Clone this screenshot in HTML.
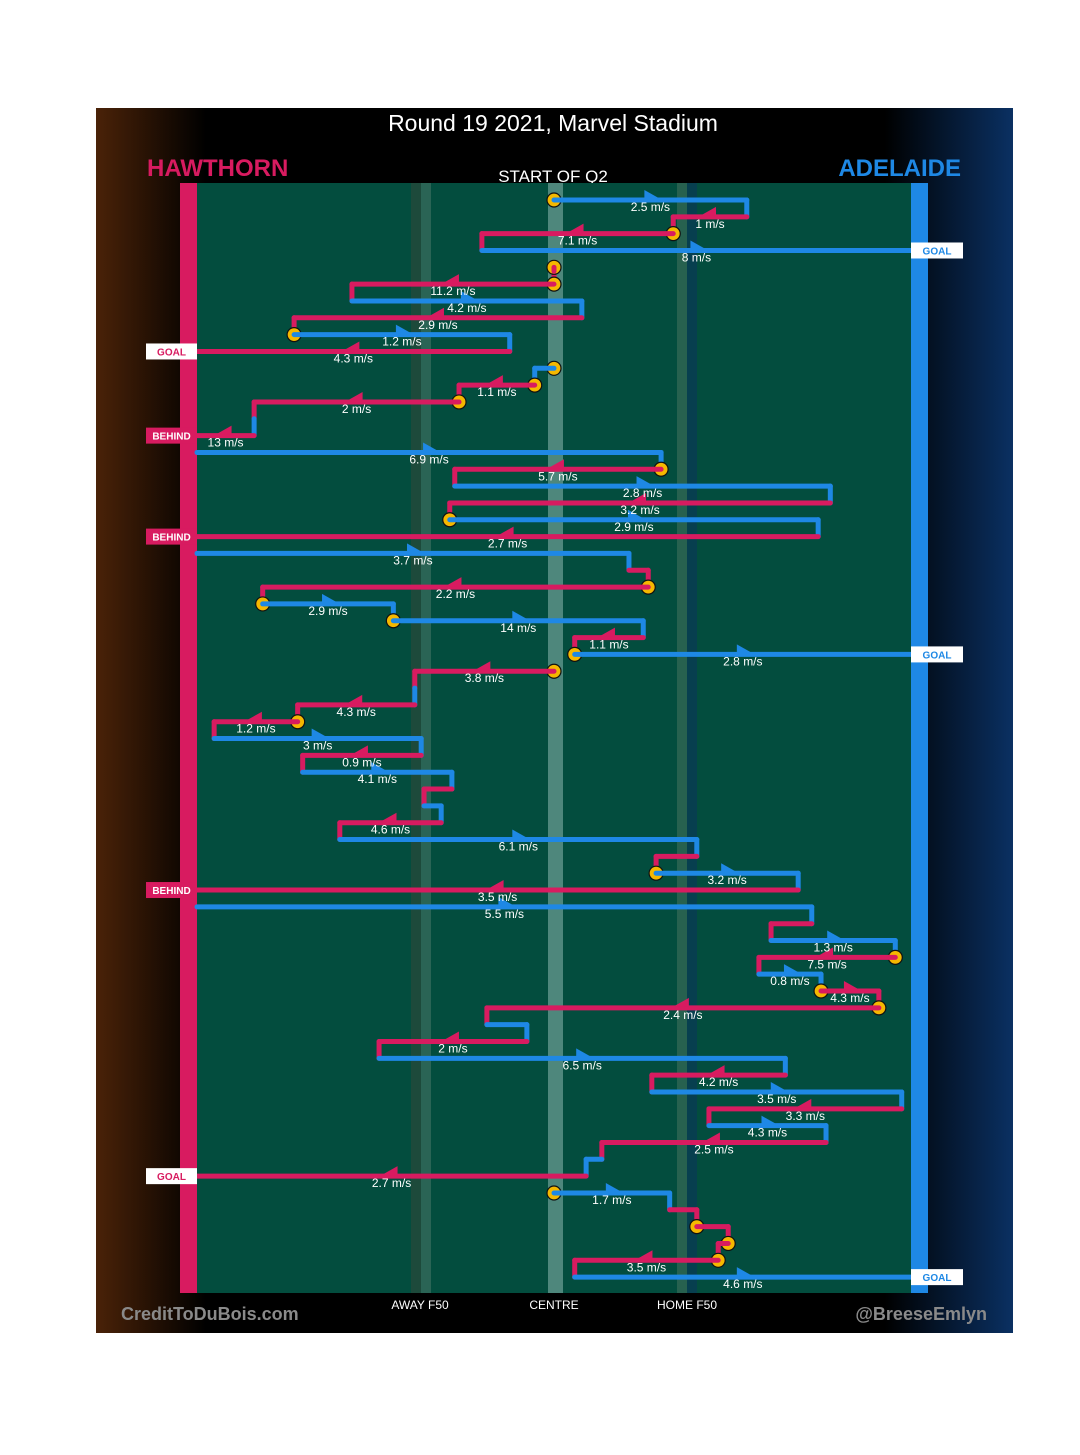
<!DOCTYPE html>
<html><head><meta charset="utf-8">
<style>
html,body{margin:0;padding:0;background:#fff;}
svg{display:block;}
text{font-family:"Liberation Sans Narrow","Liberation Sans",sans-serif;}
</style></head>
<body>
<svg id="chart" width="1080" height="1455" viewBox="0 0 1080 1455" xmlns="http://www.w3.org/2000/svg">
<defs>
<linearGradient id="bgGrad" x1="0" x2="1" y1="0" y2="0">
<stop offset="0" stop-color="#4a2208"/>
<stop offset="0.12" stop-color="#000"/>
<stop offset="0.86" stop-color="#000"/>
<stop offset="1" stop-color="#0a3062"/>
</linearGradient>
</defs>
<rect x="96" y="108" width="917" height="1225" fill="url(#bgGrad)"/>
<text x="553" y="131" text-anchor="middle" fill="#fff" font-size="23">Round 19 2021, Marvel Stadium</text>
<text x="147" y="176" fill="#d81b60" font-size="24" font-weight="bold">HAWTHORN</text>
<text x="961" y="176" text-anchor="end" fill="#1e88e5" font-size="24" font-weight="bold">ADELAIDE</text>
<text x="553" y="182" text-anchor="middle" fill="#fff" font-size="17">START OF Q2</text>
<rect x="197" y="183" width="714" height="1110" fill="#034d3e"/>
<rect x="411" y="183" width="10" height="1110" fill="#1d4a3b"/>
<rect x="421" y="183" width="10" height="1110" fill="#2a6455"/>
<rect x="548" y="183" width="15" height="1110" fill="#4e877c"/>
<rect x="677" y="183" width="10" height="1110" fill="#27614f"/>
<rect x="687" y="183" width="10" height="1110" fill="#073f4f"/>
<rect x="180" y="183" width="17" height="1110" fill="#d81b60"/>
<rect x="911" y="183" width="17" height="1110" fill="#1e88e5"/>
<g id="marks"></g>
<text x="420" y="1309" text-anchor="middle" fill="#fff" font-size="12">AWAY F50</text>
<text x="554" y="1309" text-anchor="middle" fill="#fff" font-size="12">CENTRE</text>
<text x="687" y="1309" text-anchor="middle" fill="#fff" font-size="12">HOME F50</text>
<text x="121" y="1320" fill="#8a8a8a" font-size="18" font-weight="bold">CreditToDuBois.com</text>
<text x="987" y="1320" text-anchor="end" fill="#8a8a8a" font-size="18" font-weight="bold">@BreeseEmlyn</text>
</svg>
<script>
// row index, team (H = Hawthorn, A = Adelaide), start/end position (0 = Hawthorn goal, 100 = Adelaide goal), speed label, marker, outcome
const rows   = [0,1,2,3,4,5,6,7,8,9,10,11,12,13,14,15,16,17,18,19,20,21,22,23,24,25,26,27,28,29,30,31,32,33,34,35,36,37,38,39,40,41,42,43,44,45,46,47,48,49,50,51,52,53,54,55,56,57,58,59,60,61,62,63,64];
const teams  = ["A","H","H","A","H","H","A","H","A","H","A","H","H","A","H","A","H","A","H","A","H","A","H","H","A","A","H","A","H","A","H","H","A","H","A","H","A","H","A","H","A","H","A","H","A","H","A","H","H","A","H","A","H","A","H","A","H","A","H","A","H","H","H","H","A"];
const starts = [50,77,66.7,39.9,50,50,21.7,53.9,13.6,43.8,50,47.3,36.7,8,8,0,65,36.1,88.7,35.4,87,0,60.5,63.2,9.2,27.5,62.5,52.9,50,30.5,30.5,14.1,2.4,31.4,14.8,35.7,31.8,34.2,20,70,64.3,84.2,0,86.1,80.4,97.8,78.7,87.4,95.5,40.6,46.2,25.5,82.4,63.7,98.7,71.7,88.1,56.7,54.5,50,66.2,70,74.4,73,52.9];
const ends   = [77,66.7,39.9,100,50,21.7,53.9,13.6,43.8,0,47.3,36.7,8,8,0,65,36.1,88.7,35.4,87,0,60.5,63.2,9.2,27.5,62.5,52.9,100,30.5,30.5,14.1,2.4,31.4,14.8,35.7,31.8,34.2,20,70,64.3,84.2,0,86.1,80.4,97.8,78.7,87.4,95.5,40.6,46.2,25.5,82.4,63.7,98.7,71.7,88.1,56.7,54.5,0,66.2,70,74.4,73,52.9,100];
const speeds = ["2.5","1","7.1","8","","11.2","4.2","2.9","1.2","4.3","","1.1","2","","13","6.9","5.7","2.8","3.2","2.9","2.7","3.7","","2.2","2.9","14","1.1","2.8","3.8","","4.3","1.2","3","0.9","4.1","","","4.6","6.1","","3.2","3.5","5.5","","1.3","7.5","0.8","4.3","2.4","","2","6.5","4.2","3.5","3.3","4.3","2.5","","2.7","1.7","","","","3.5","4.6"];
const markers= [1,0,1,0,1,1,0,0,1,0,1,1,1,0,0,0,1,0,0,1,0,0,0,1,1,1,0,1,1,0,0,1,0,0,0,0,0,0,0,0,1,0,0,0,0,1,0,1,1,0,0,0,0,0,0,0,0,0,0,1,0,1,1,1,0];
const outcomes=["","","","GOAL","","","","","","GOAL","","","","","BEHIND","","","","","","BEHIND","","","","","","","GOAL","","","","","","","","","","","","","","BEHIND","","","","","","","","","","","","","","","","","GOAL","","","","","","GOAL"];

const X0 = 197, X1 = 911, Y0 = 200, ROWH = 16.83;
const xScale = p => X0 + (X1 - X0) * p / 100;
const yScale = r => Y0 + r * ROWH;
const colors = {H:"#d81b60", A:"#1e88e5"};
const NS = "http://www.w3.org/2000/svg";
const g = document.getElementById("marks");
const layerV = document.createElementNS(NS,"g"), layerM = document.createElementNS(NS,"g"), layerH = document.createElementNS(NS,"g"), layerT = document.createElementNS(NS,"g");
g.appendChild(layerV); g.appendChild(layerM); g.appendChild(layerH); g.appendChild(layerT);
function mk(tag, attrs, parent){const e=document.createElementNS(NS,tag);for(const k in attrs)e.setAttribute(k,attrs[k]);parent.appendChild(e);return e;}

for (let i = 0; i < rows.length; i++) {
  const y = yScale(rows[i]);
  const xa = xScale(starts[i]), xb = xScale(ends[i]);
  const col = colors[teams[i]];
  // vertical connector from previous row
  if (i > 0 && Math.abs(ends[i-1] - starts[i]) < 0.01 && outcomes[i-1] === "") {
    const v = mk("line",{x1:xa,y1:yScale(rows[i-1]),x2:xa,y2:y,stroke:colors[teams[i-1]],"stroke-width":5,"stroke-linecap":"round"},layerV);
    
    
  }
  if (markers[i]) {
    const m = mk("circle",{cx:xa,cy:y,r:7,fill:"#f5b800",stroke:"#111","stroke-width":1.2},layerM);
    
    
  }
  if (Math.abs(xb - xa) > 0.5) {
    const h = mk("line",{x1:xa,y1:y,x2:xb,y2:y,stroke:col,"stroke-width":5,"stroke-linecap":"round"},layerH);
    
    
  } else if (markers[i]) {
    const h = mk("line",{x1:xa,y1:y,x2:xa,y2:y+4,stroke:col,"stroke-width":5,"stroke-linecap":"round"},layerH);
    
    
  }
  const mid = (xa + xb) / 2;
  if (speeds[i] !== "") {
    const dir = xb > xa ? 1 : -1;
    const ax = mid - dir * 6;
    const a = mk("polygon",{points:`${ax},${y-1} ${ax},${y-10} ${ax+dir*16},${y-1}`,fill:col},layerH);
    
    
    const t = mk("text",{x:mid,y:y+11,"text-anchor":"middle",fill:"#fff","font-size":12},layerT);
    t.textContent = speeds[i] + " m/s";
    
    
  }
  if (outcomes[i] !== "") {
    const left = ends[i] < 50;
    const behind = outcomes[i] === "BEHIND";
    const bx = left ? 146 : 911, bw = left ? 51 : 52;
    const r = mk("rect",{x:bx,y:y-8,width:bw,height:16,fill:behind ? colors.H : "#fff"},layerT);
    
    
    const t = mk("text",{x:bx+bw/2,y:y+4,"text-anchor":"middle",fill:behind ? "#fff" : (left ? colors.H : colors.A),"font-size":10,"font-weight":"bold"},layerT);
    t.textContent = outcomes[i];
    
    
  }
}
</script>
</body></html>
